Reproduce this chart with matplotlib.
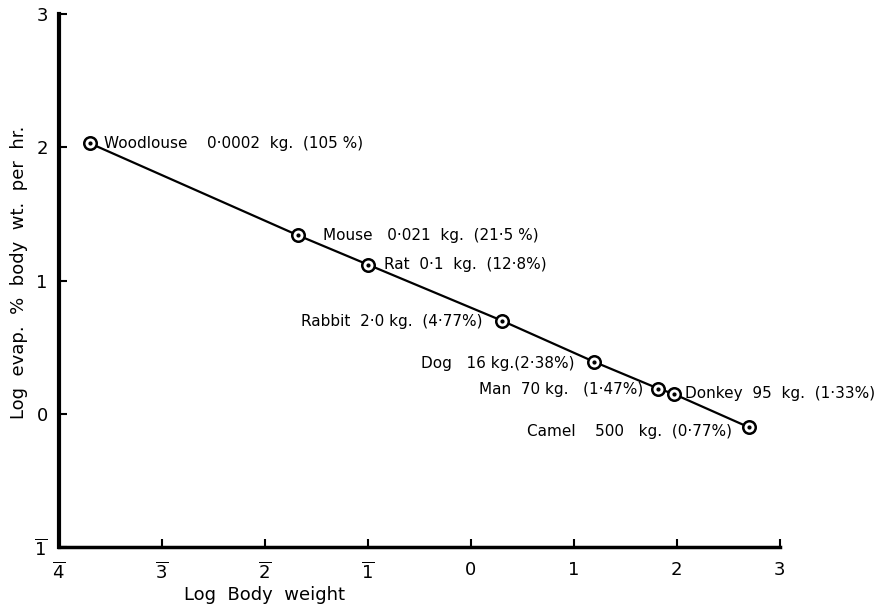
import matplotlib.pyplot as plt

# log10 body weight (kg) and log10 evaporation (% body wt. per hr.)
animals = ["Woodlouse", "Mouse", "Rat", "Rabbit", "Dog", "Man", "Donkey", "Camel"]
log_weight = [-3.70, -1.68, -1.00, 0.30, 1.20, 1.82, 1.97, 2.70]
log_evap = [2.03, 1.34, 1.12, 0.70, 0.39, 0.19, 0.15, -0.10]
labels = [
    "Woodlouse    0·0002  kg.  (105 %)",
    "Mouse   0·021  kg.  (21·5 %)",
    "Rat  0·1  kg.  (12·8%)",
    "Rabbit  2·0 kg.  (4·77%)",
    "Dog   16 kg.(2·38%)",
    "Man  70 kg.   (1·47%)",
    "Donkey  95  kg.  (1·33%)",
    "Camel    500   kg.  (0·77%)",
]
# label offsets in points, and alignment
offsets = [(10, 0), (18, 0), (11.5, 0), (-14, -1), (-14.5, -1), (-11, -1), (8, 0), (-12, -3)]
aligns = ["left", "left", "left", "right", "right", "right", "left", "right"]

x_ticks = [-4, -3, -2, -1, 0, 1, 2, 3]
x_ticklabels = [r"$\overline{4}$", r"$\overline{3}$", r"$\overline{2}$", r"$\overline{1}$",
                "0", "1", "2", "3"]
y_ticks = [-1, 0, 1, 2, 3]
y_ticklabels = [r"$\overline{1}$", "0", "1", "2", "3"]

plt.rcParams["mathtext.fontset"] = "dejavusans"

fig = plt.figure(figsize=(8.8, 6.06), dpi=100)
ax = fig.add_axes([0.067, 0.097, 0.819, 0.880])

ax.plot(log_weight, log_evap, color="black", lw=1.6, zorder=2)
ax.plot(log_weight, log_evap, "o", ms=9, mfc="white", mec="black", mew=1.8, zorder=3)
ax.plot(log_weight, log_evap, "o", ms=2, color="black", zorder=4)

for x, y, t, off, ha in zip(log_weight, log_evap, labels, offsets, aligns):
    ax.annotate(t, (x, y), xytext=off, textcoords="offset points",
                ha=ha, va="center", fontsize=11)

ax.set_xlim(-4, 3)
ax.set_ylim(-1, 3)
ax.set_xticks(x_ticks)
ax.set_xticklabels(x_ticklabels)
ax.set_yticks(y_ticks)
ax.set_yticklabels(y_ticklabels)

for s in ["top", "right"]:
    ax.spines[s].set_visible(False)
ax.spines["left"].set_linewidth(3)
ax.spines["bottom"].set_linewidth(2.5)
ax.tick_params(direction="in", length=6, width=1.5, labelsize=13)
ax.tick_params(axis="x", pad=10)
ax.tick_params(axis="y", pad=8)

fig.text(0.30, 0.004, "Log  Body  weight", ha="center", va="bottom", fontsize=13)
fig.text(0.022, 0.55, "Log  evap.  %  body  wt.  per  hr.", rotation=90,
         ha="center", va="center", fontsize=13)

fig.savefig("out.png", dpi=100)
